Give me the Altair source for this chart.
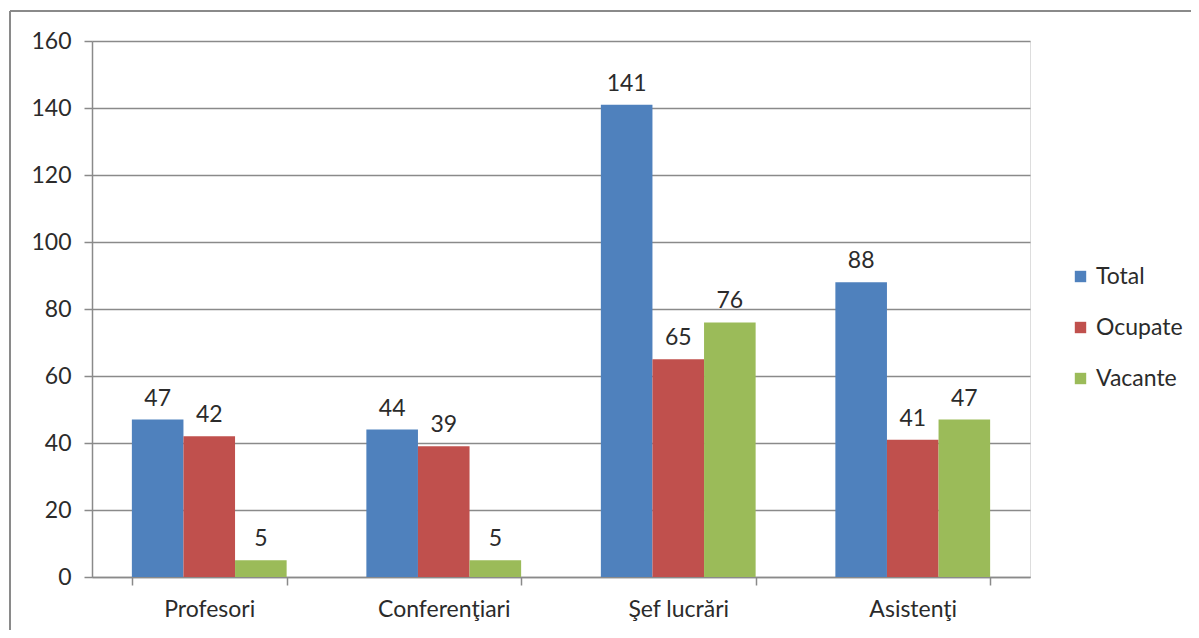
import altair as alt
import pandas as pd

categories = ["Profesori", "Conferenţiari", "Şef lucrări", "Asistenţi"]
series = ["Total", "Ocupate", "Vacante"]
total = [47, 44, 141, 88]
ocupate = [42, 39, 65, 41]
vacante = [5, 5, 76, 47]
colors = ["#4F81BD", "#C0504D", "#9BBB59"]

rows = []
for i, c in enumerate(categories):
    for s, vals in zip(series, [total, ocupate, vacante]):
        rows.append({"cat": c, "series": s, "value": vals[i]})
df = pd.DataFrame(rows)

FONT = "Lato"
FS = 23
TXT = "#2b2b2b"
W, H = 938, 536

x = alt.X("cat:N", sort=categories, title=None,
          scale=alt.Scale(paddingInner=0.34, paddingOuter=0.17),
          axis=alt.Axis(labelAngle=0, labelFont=FONT, labelFontSize=FS, labelColor=TXT,
                        labelPadding=13, tickBand="extent", tickSize=8, tickColor="#8a8a8a",
                        tickWidth=1.5, domainColor="#8a8a8a", domainWidth=1.5, grid=False))
y = alt.Y("value:Q", title=None,
          scale=alt.Scale(domain=[0, 160]),
          axis=alt.Axis(values=list(range(0, 161, 20)), labelFont=FONT, labelFontSize=FS,
                        labelColor=TXT, labelPadding=13, tickSize=8, tickColor="#8a8a8a",
                        tickWidth=1.5, domainColor="#8a8a8a", domainWidth=1.5,
                        gridColor="#8a8a8a", gridWidth=1.5))
xo = alt.XOffset("series:N", sort=series)

bars = alt.Chart(df).mark_bar().encode(
    x=x, y=y, xOffset=xo,
    color=alt.Color("series:N", sort=series,
                    scale=alt.Scale(domain=series, range=colors),
                    legend=alt.Legend(title=None, orient="none", legendX=977, legendY=224,
                                      symbolType="square", symbolSize=130, symbolStrokeWidth=0,
                                      labelFont=FONT, labelFontSize=FS, labelColor=TXT,
                                      rowPadding=27, labelOffset=4)),
)

labels = alt.Chart(df).mark_text(baseline="bottom", dy=-9, font=FONT, fontSize=FS,
                                 color=TXT).encode(
    x=alt.X("cat:N", sort=categories), y="value:Q", xOffset=xo, text="value:Q")

frame_left = alt.Chart(df).mark_rule(color="#8a8a8a", strokeWidth=2).encode(
    x=alt.value(-82), y=alt.value(-30), y2=alt.value(H + 60))
frame_top = alt.Chart(df).mark_rule(color="#8a8a8a", strokeWidth=2).encode(
    x=alt.value(-82), x2=alt.value(W + 200), y=alt.value(-30))

chart = alt.layer(bars, labels, frame_left, frame_top).properties(
    width=W, height=H,
    autosize=alt.AutoSizeParams(type="none"),
    padding={"left": 84, "top": 33, "right": 161, "bottom": 53},
).configure_view(stroke=None).configure(background="white")

chart.save("out.html", embed_options={"renderer": "svg", "actions": False})
